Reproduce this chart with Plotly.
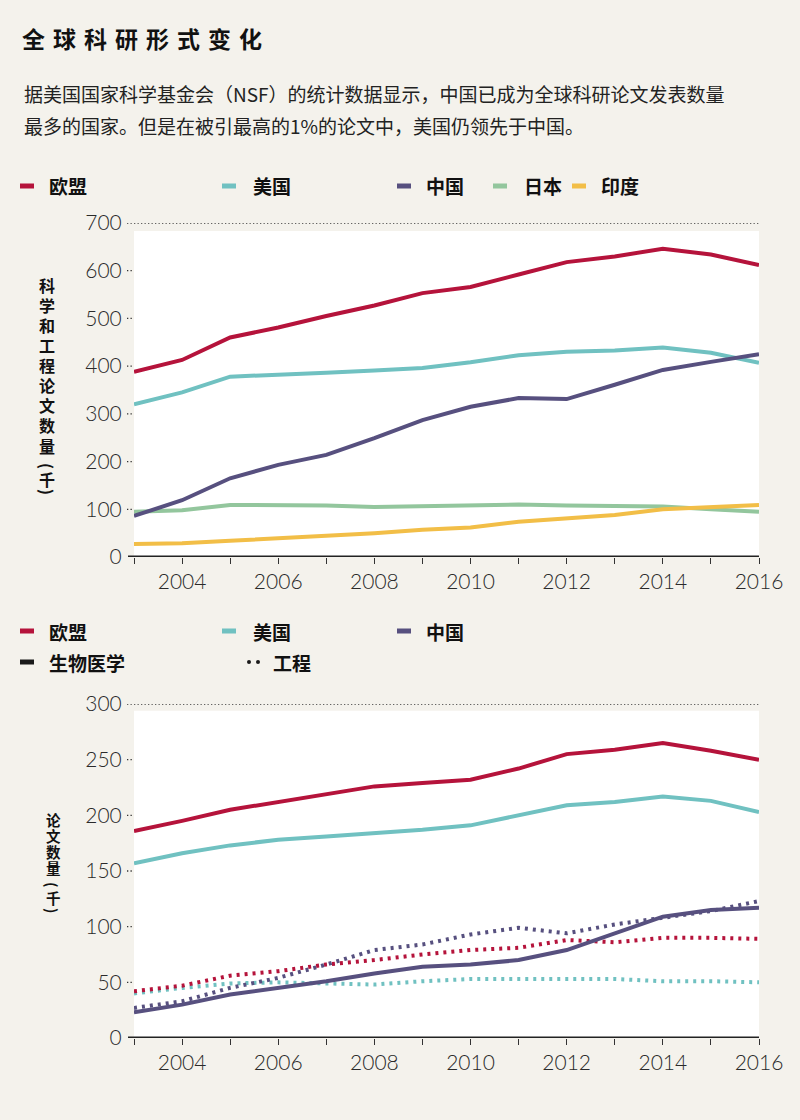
import plotly.graph_objects as go

W, H = 800, 1120
BG = "#f4f2ec"
CJK = "Noto Sans CJK SC"
NUM = "Lato"

years = list(range(2003, 2017))
xlabels = [str(y) if y % 2 == 0 else "" for y in years]

# top chart: S&E articles (thousands)
eu_total = [388, 413, 460, 481, 505, 527, 553, 566, 592, 618, 630, 646, 634, 612]
us_total = [320, 345, 378, 381, 386, 391, 396, 408, 423, 430, 433, 439, 428, 407]
cn_total = [86, 119, 165, 193, 214, 249, 287, 315, 333, 331, 361, 392, 409, 425]
jp_total = [95, 98, 109, 109, 108, 105, 107, 107, 110, 108, 108, 106, 100, 95]
in_total = [27, 29, 34, 39, 44, 50, 57, 62, 74, 81, 88, 100, 105, 109]
top_ticks = [0, 100, 200, 300, 400, 500, 600, 700]

# bottom chart: biomedical (solid) and engineering (dotted)
eu_bio = [186, 195, 205, 212, 219, 226, 229, 232, 242, 255, 259, 265, 258, 250]
us_bio = [157, 166, 173, 178, 181, 184, 187, 191, 200, 209, 212, 217, 213, 203]
cn_bio = [23, 30, 39, 45, 51, 58, 64, 66, 70, 79, 94, 109, 115, 117]
eu_eng = [42, 47, 56, 60, 66, 70, 75, 79, 81, 88, 86, 90, 90, 89]
us_eng = [40, 45, 49, 50, 49, 48, 51, 53, 53, 53, 53, 51, 51, 50]
cn_eng = [27, 33, 45, 54, 66, 79, 84, 93, 99, 94, 102, 108, 114, 123]
bot_ticks = [0, 50, 100, 150, 200, 250, 300]

C_EU = "#b5133b"
C_US = "#70c1c1"
C_CN = "#57507f"
C_JP = "#93c69d"
C_IN = "#f2be47"

def px(x):
    return x / W

def py(y):
    return 1 - y / H

fig = go.Figure()

LW = 4
for vals, col in [(jp_total, C_JP), (in_total, C_IN), (us_total, C_US), (cn_total, C_CN), (eu_total, C_EU)]:
    fig.add_trace(go.Scatter(x=years, y=vals, mode="lines", line=dict(color=col, width=LW),
                             xaxis="x", yaxis="y", hoverinfo="skip"))

for vals, col in [(us_eng, C_US), (eu_eng, C_EU), (cn_eng, C_CN)]:
    fig.add_trace(go.Scatter(x=years, y=vals, mode="lines",
                             line=dict(color=col, width=4, dash="3px,5px"),
                             xaxis="x2", yaxis="y2", hoverinfo="skip"))
for vals, col in [(us_bio, C_US), (eu_bio, C_EU), (cn_bio, C_CN)]:
    fig.add_trace(go.Scatter(x=years, y=vals, mode="lines", line=dict(color=col, width=LW),
                             xaxis="x2", yaxis="y2", hoverinfo="skip"))

xdom = [px(134), px(759)]
xax = dict(domain=xdom, range=[2003, 2016], showgrid=False, zeroline=False, showline=False,
           tickmode="array", tickvals=years, ticktext=xlabels, ticks="outside", ticklen=6,
           tickwidth=1, tickcolor="#333", automargin=False,
           tickfont=dict(family=NUM, size=21, color="#2a2a2a", weight=300),
           fixedrange=True)
yax_common = dict(showgrid=False, zeroline=False, showline=False, automargin=False,
                  ticks="outside", ticklen=7, tickcolor="rgba(0,0,0,0)",
                  tickfont=dict(family=NUM, size=21, color="#2a2a2a", weight=300),
                  fixedrange=True)

fig.update_layout(
    width=W, height=H, margin=dict(l=0, r=0, t=0, b=0, pad=0, autoexpand=False), autosize=False,
    paper_bgcolor=BG, plot_bgcolor=BG, showlegend=False,
    xaxis=dict(**xax, anchor="y"),
    yaxis=dict(**yax_common, domain=[py(557), py(223)], range=[0, 700], tickvals=top_ticks, anchor="x"),
    xaxis2=dict(**xax, anchor="y2"),
    yaxis2=dict(**yax_common, domain=[py(1038), py(704)], range=[0, 300], tickvals=bot_ticks, anchor="x2"),
)

shapes = []
# white plot backgrounds
shapes.append(dict(type="rect", xref="x", yref="y", x0=2003, x1=2016, y0=0, y1=683,
                   fillcolor="white", line=dict(width=0), layer="below"))
shapes.append(dict(type="rect", xref="x2", yref="y2", x0=2003, x1=2016, y0=0, y1=294,
                   fillcolor="white", line=dict(width=0), layer="below"))
# dotted gridlines
GRID = dict(color="#333", width=1.3, dash="1.3px,2.2px")
for v in top_ticks[1:]:
    shapes.append(dict(type="line", xref="paper", yref="y", x0=px(127), x1=px(759), y0=v, y1=v,
                       line=GRID, layer="below"))
for v in bot_ticks[1:]:
    shapes.append(dict(type="line", xref="paper", yref="y2", x0=px(127), x1=px(759), y0=v, y1=v,
                       line=GRID, layer="below"))
# baselines
shapes.append(dict(type="line", xref="paper", yref="y", x0=px(128), x1=px(759), y0=0, y1=0,
                   line=dict(color="#222", width=3)))
shapes.append(dict(type="line", xref="paper", yref="y2", x0=px(128), x1=px(759), y0=0, y1=0,
                   line=dict(color="#222", width=3)))

ann = []
# title with letter spacing
title = "全球科研形式变化"
for i, ch in enumerate(title):
    ann.append(dict(text=ch, x=px(33 + i * 31), y=py(38), xref="paper", yref="paper",
                    xanchor="center", yanchor="middle", showarrow=False,
                    font=dict(family=CJK, size=23, color="#111", weight="bold")))
sub1 = "据美国国家科学基金会（NSF）的统计数据显示，中国已成为全球科研论文发表数量"
sub2 = "最多的国家。但是在被引最高的1%的论文中，美国仍领先于中国。"
for txt, yy in [(sub1, 93), (sub2, 125)]:
    ann.append(dict(text=txt, x=px(22), y=py(yy), xref="paper", yref="paper",
                    xanchor="left", yanchor="middle", showarrow=False,
                    font=dict(family=CJK, size=19, color="#222")))

def legend_line(x0, yy, col):
    shapes.append(dict(type="line", xref="paper", yref="paper", x0=px(x0), x1=px(x0 + 14),
                       y0=py(yy), y1=py(yy), line=dict(color=col, width=5)))

def legend_text(x0, yy, txt):
    ann.append(dict(text=txt, x=px(x0), y=py(yy), xref="paper", yref="paper",
                    xanchor="left", yanchor="middle", showarrow=False,
                    font=dict(family=CJK, size=19, color="#111", weight="bold")))

top_leg = [("欧盟", C_EU, 20, 47), ("美国", C_US, 222, 251), ("中国", C_CN, 397, 424),
           ("日本", C_JP, 493, 522), ("印度", C_IN, 572, 599)]
for name, col, mx, tx in top_leg:
    legend_line(mx, 186, col)
    legend_text(tx, 186, name)

bot_leg = [("欧盟", C_EU, 20, 47), ("美国", C_US, 222, 251), ("中国", C_CN, 397, 424)]
for name, col, mx, tx in bot_leg:
    legend_line(mx, 631, col)
    legend_text(tx, 631, name)
legend_line(20, 662, "#1a1a1a")
legend_text(47, 662, "生物医学")
for cx in (249, 258):
    shapes.append(dict(type="circle", xref="paper", yref="paper", x0=px(cx - 2), x1=px(cx + 2),
                       y0=py(662 + 2), y1=py(662 - 2), fillcolor="#1a1a1a", line=dict(width=0)))
legend_text(271, 662, "工程")

def vchar(ch, x, y, size, angle=0):
    ann.append(dict(text=ch, x=px(x), y=py(y), xref="paper", yref="paper",
                    xanchor="center", yanchor="middle", showarrow=False, textangle=angle,
                    font=dict(family=CJK, size=size, color="#111", weight="bold")))

# vertical axis titles, one character per annotation; brackets turned sideways
t1 = ["科", "学", "和", "工", "程", "论", "文", "数", "量", "(", "千", ")"]
t1y = [285, 305, 325, 345, 365, 385, 405, 425, 446, 466, 479, 492]
for ch, yy in zip(t1, t1y):
    vchar(ch, 47, yy, 16, 90 if ch in "()" else 0)
t2 = ["论", "文", "数", "量", "(", "千", ")"]
t2y = [819, 835, 851, 867, 884, 897, 910]
for ch, yy in zip(t2, t2y):
    vchar(ch, 53, yy, 14.5, 90 if ch in "()" else 0)

fig.update_layout(shapes=shapes, annotations=ann)
fig.write_html("out.html", config={"displayModeBar": False},
               post_script="document.documentElement.style.margin='0';document.body.style.margin='0';"
                           "document.body.style.padding='0';"
                           "document.documentElement.style.overflow='hidden';"
                           "document.body.style.overflow='hidden';")
